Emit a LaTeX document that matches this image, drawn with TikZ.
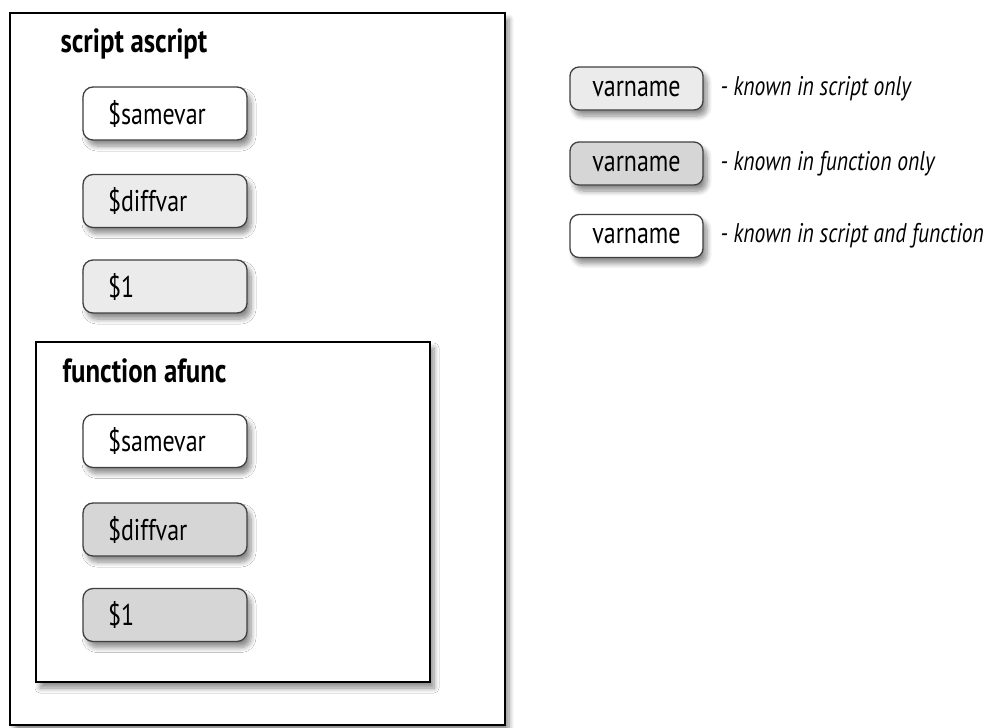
\documentclass[tikz,border=0pt]{standalone}
\usepackage{fontspec}
\setmainfont{PT Sans}[FakeStretch=0.8]
\usetikzlibrary{shadows.blur}

\definecolor{scriptfill}{HTML}{EBEBEB}
\definecolor{funcfill}{HTML}{D6D6D6}

\tikzset{
  softshadow/.style={blur shadow={shadow xshift=4pt, shadow yshift=-6pt,
      shadow blur steps=8, shadow blur radius=5pt, shadow opacity=45}},
  varbox/.style={draw=black!75, line width=1.3pt, rounded corners=10pt,
      minimum height=53pt, text width=114pt, inner xsep=25pt, inner ysep=2pt,
      align=left, font=\fontsize{30}{32}\selectfont, softshadow},
  legbox/.style={draw=black!75, line width=1.3pt, rounded corners=9pt,
      minimum height=43pt, minimum width=133pt, inner ysep=2pt, align=center,
      font=\fontsize{30}{32}\selectfont, softshadow},
  frame/.style={draw=black, line width=2.8pt, fill=white, softshadow},
  title/.style={anchor=west, font=\fontsize{33.5}{36}\selectfont\bfseries},
  legtext/.style={anchor=west, font=\fontsize{27}{29}\selectfont\itshape},
}

\begin{document}
\begin{tikzpicture}[x=1pt, y=-1pt]
  \useasboundingbox (0,0) rectangle (996,728);

  % script frame
  \draw[frame] (10,13) rectangle (505,725);
  \node[title] (tscript) at (57,44) {script ascript};
  \node[varbox, fill=white]      (s1) at (165,113.5) {\$samevar};
  \node[varbox, fill=scriptfill] (s2) at (165,201)   {\$diffvar};
  \node[varbox, fill=scriptfill] (s3) at (165,286.5) {\$1};

  % function frame
  \draw[frame] (36,342) rectangle (430,682);
  \node[title] (tfunc) at (59,371) {function afunc};
  \node[varbox, fill=white]    (f1) at (165,441)   {\$samevar};
  \node[varbox, fill=funcfill] (f2) at (165,529.5) {\$diffvar};
  \node[varbox, fill=funcfill] (f3) at (165,615)   {\$1};

  % legend
  \node[legbox, fill=scriptfill] (l1) at (636.5,88.5) {varname};
  \node[legbox, fill=funcfill]   (l2) at (636.5,163.5) {varname};
  \node[legbox, fill=white]      (l3) at (636.5,236)  {varname};
  \node[legtext] (d1) at (717,88.5)  {- known in script only};
  \node[legtext] (d2) at (717,163.5) {- known in function only};
  \node[legtext] (d3) at (717,236)   {- known in script and function};
\end{tikzpicture}
\end{document}
